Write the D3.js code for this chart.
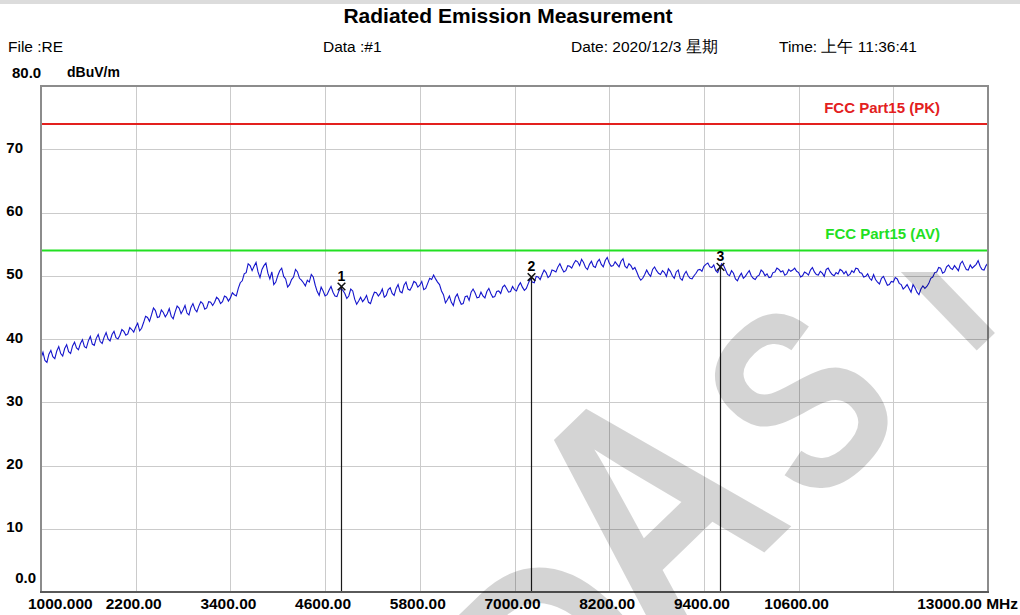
<!DOCTYPE html>
<html>
<head>
<meta charset="utf-8">
<script src="https://cdn.jsdelivr.net/npm/d3@7"></script>
<style>
    body { margin: 0; background: #fff; }
    svg text { font-family: "Liberation Sans", Arial, sans-serif; }
</style>
</head>
<body>
<svg id="chart" width="1020" height="615"></svg>
<script>
// Measured trace, one reading every 25 MHz starting at 1000 MHz (dBuV/m)
const freqStart = 1000;
const freqStep = 25;
const levels = [
    37.0, 37.9, 36.6, 36.3, 37.6, 38.2, 37.2, 36.9, 38.1, 38.8, 37.7, 37.3, 38.5, 39.1, 38.0, 37.7, 38.9, 39.5, 38.6, 38.3,
    39.3, 39.9, 38.8, 38.6, 39.7, 40.4, 39.2, 39.0, 40.1, 40.7, 39.6, 39.3, 40.3, 41.0, 40.0, 39.7, 40.7, 41.2, 40.2, 40.0,
    40.6, 41.5, 41.2, 40.6, 40.8, 41.8, 41.5, 41.1, 41.9, 42.5, 41.3, 41.7, 42.6, 43.6, 43.4, 42.8, 43.8, 44.9, 44.5, 43.4,
    43.5, 44.6, 44.2, 43.5, 44.0, 44.8, 43.6, 43.2, 44.3, 45.2, 44.9, 44.0, 44.6, 45.3, 44.1, 43.8, 45.0, 45.6, 44.7, 44.3,
    45.2, 45.9, 45.6, 44.7, 44.9, 45.9, 45.8, 45.3, 45.8, 46.6, 46.3, 45.6, 45.9, 46.8, 46.6, 46.0, 46.5, 47.3, 47.0, 46.8,
    48.0, 48.9, 49.2, 50.3, 50.5, 51.9, 51.6, 50.8, 51.5, 52.1, 50.6, 49.7, 51.0, 51.6, 52.0, 50.4, 49.5, 50.6, 48.6, 49.0,
    50.0, 50.8, 51.2, 49.9, 49.5, 48.2, 48.6, 49.4, 49.8, 51.0, 50.6, 49.6, 49.3, 48.9, 48.4, 49.3, 49.0, 50.2, 49.8, 48.5,
    47.5, 46.9, 48.2, 47.6, 46.8, 47.0, 47.7, 48.3, 47.4, 46.8, 46.7, 47.6, 48.0, 47.7, 47.2, 46.4, 46.8, 47.9, 47.6, 46.3,
    45.5, 46.0, 46.6, 45.9, 46.3, 46.9, 45.8, 45.6, 46.6, 47.4, 47.3, 46.8, 47.2, 47.9, 46.6, 46.9, 47.8, 48.1, 47.2, 46.9,
    48.0, 48.6, 47.5, 47.3, 48.5, 49.0, 47.9, 47.7, 48.3, 49.1, 48.9, 48.2, 48.5, 49.1, 47.8, 48.0, 48.8, 49.6, 49.4, 50.1,
    49.5, 49.0, 48.6, 47.6, 47.0, 45.7, 46.2, 46.8, 45.8, 45.3, 46.6, 47.1, 46.2, 45.5, 45.6, 46.7, 46.8, 46.1, 47.4, 47.9,
    47.3, 46.5, 46.6, 47.4, 46.8, 46.5, 47.5, 48.0, 47.2, 46.6, 46.7, 47.5, 47.6, 47.2, 48.2, 48.5, 48.0, 47.4, 47.5, 48.3,
    47.8, 47.6, 48.4, 48.9, 48.2, 47.7, 48.0, 48.8, 49.5, 49.0, 48.9, 49.9, 49.8, 49.4, 50.2, 50.9, 50.5, 49.7, 50.0, 50.9,
    50.8, 50.6, 51.4, 51.9, 51.2, 50.6, 50.8, 51.6, 51.5, 51.2, 51.9, 52.4, 52.2, 51.6, 52.6, 52.1, 51.3, 51.0, 51.8, 52.3,
    51.5, 51.3, 52.2, 52.6, 51.8, 51.4, 52.4, 52.9, 52.0, 51.5, 51.6, 52.2, 51.8, 51.4, 52.3, 52.7, 51.5, 51.2, 51.9, 51.6,
    51.0, 51.3, 50.6, 49.8, 49.3, 49.6, 50.2, 50.9, 50.3, 49.9, 51.0, 51.4, 50.8, 50.4, 50.2, 50.8, 50.5, 49.9, 51.1, 50.7,
    50.0, 49.6, 50.6, 50.9, 49.6, 49.3, 50.2, 50.7, 50.0, 49.6, 49.5, 50.0, 50.4, 50.9, 51.0, 50.7, 51.5, 51.8, 52.0, 51.4,
    51.3, 51.7, 50.8, 50.5, 51.3, 51.9, 51.6, 50.9, 50.2, 50.0, 50.8, 50.4, 49.5, 49.2, 49.9, 50.4, 49.6, 49.9, 50.4, 50.8,
    50.0, 49.6, 49.4, 49.9, 50.1, 50.9, 50.6, 50.0, 50.3, 49.7, 49.8, 50.5, 50.6, 51.2, 51.0, 50.6, 50.8, 50.1, 50.3, 51.0,
    50.7, 50.9, 51.2, 50.7, 50.5, 49.8, 50.0, 50.6, 50.4, 50.1, 50.9, 51.3, 50.6, 50.2, 50.1, 50.7, 50.4, 49.9, 51.0, 51.2,
    50.6, 50.2, 50.0, 50.5, 50.3, 51.0, 50.8, 50.3, 50.7, 50.0, 50.2, 50.8, 50.5, 51.2, 51.1, 50.5, 50.4, 49.8, 49.9, 50.3,
    49.6, 49.3, 50.2, 49.4, 49.0, 48.7, 49.6, 49.9, 49.2, 48.5, 48.6, 49.1, 49.0, 49.7, 49.5, 48.8, 48.6, 47.9, 48.2, 48.6,
    48.0, 47.4, 48.6, 48.1, 47.4, 47.0, 47.9, 48.4, 48.0, 48.3, 48.8, 49.6, 49.8, 50.5, 50.6, 51.3, 51.2, 50.4, 50.6, 51.4,
    51.7, 51.2, 51.0, 51.6, 51.2, 50.8, 51.9, 52.3, 51.6, 51.0, 50.9, 51.7, 51.2, 51.5, 51.8, 52.4, 51.5, 51.0, 50.9, 51.6,
    52.0
];

// Axis ticks
const xTicks = [1000, 2200, 3400, 4600, 5800, 7000, 8200, 9400, 10600, 13000];
const xTickLabels = ["1000.000", "2200.00", "3400.00", "4600.00", "5800.00", "7000.00", "8200.00", "9400.00", "10600.00", "13000.00 MHz"];
const xGrid = [2200, 3400, 4600, 5800, 7000, 8200, 9400, 10600, 11800];
const yTicks = [10, 20, 30, 40, 50, 60, 70];

// Limit lines
const limitNames = ["FCC Part15 (PK)", "FCC Part15 (AV)"];
const limitLevels = [74, 54];
const limitColors = ["#e3201e", "#22e022"];

// Markers
const markerIds = ["1", "2", "3"];
const markerFreqs = [4804, 7206, 9608];
const markerLevels = [48.3, 49.8, 51.4];

// Header
const titleText = "Radiated Emission Measurement";
const headerItems = ["File :RE", "Data :#1", "Date: 2020/12/3 星期", "Time: 上午 11:36:41"];
const headerX = [8, 323, 571, 779];

// Watermark letters (center, font size)
const watermarkLetters = ["D", "A", "S", "I"];
const watermarkCenters = [[560, 660], [648, 505], [800, 400], [933, 287]];
const watermarkSizes = [300, 330, 260, 220];

const svg = d3.select("#chart");

const x = d3.scaleLinear().domain([1000, 13000]).range([41, 988]);
const y = d3.scaleLinear().domain([0, 80]).range([592, 86]);

// cut-off strip of the previous page line
svg.append("rect")
    .attr("x", 0).attr("y", 0)
    .attr("width", 1020).attr("height", 4)
    .attr("fill", "#dcdcdc");

svg.append("text")
    .attr("x", 508).attr("y", 23)
    .attr("text-anchor", "middle")
    .attr("font-size", 21).attr("font-weight", "bold")
    .text(titleText);

svg.selectAll(".header")
    .data(headerItems)
    .join("text")
        .attr("class", "header")
        .attr("x", (d, i) => headerX[i])
        .attr("y", 52)
        .attr("font-size", 15.5)
        .text(d => d);

// grid
const grid = svg.append("g").attr("stroke", "#cbcbcb").attr("stroke-width", 1);
grid.selectAll(".vg")
    .data(xGrid)
    .join("line")
        .attr("x1", d => Math.round(x(d)) + 0.5)
        .attr("x2", d => Math.round(x(d)) + 0.5)
        .attr("y1", y(80)).attr("y2", y(0));
grid.selectAll(".hg")
    .data(yTicks)
    .join("line")
        .attr("x1", x(1000)).attr("x2", x(13000))
        .attr("y1", d => Math.round(y(d)) + 0.5)
        .attr("y2", d => Math.round(y(d)) + 0.5);

// limit lines + labels
svg.selectAll(".limit")
    .data(limitLevels)
    .join("line")
        .attr("class", "limit")
        .attr("x1", x(1000)).attr("x2", x(13000))
        .attr("y1", d => y(d)).attr("y2", d => y(d))
        .attr("stroke", (d, i) => limitColors[i])
        .attr("stroke-width", 2);
svg.selectAll(".limit-label")
    .data(limitNames)
    .join("text")
        .attr("class", "limit-label")
        .attr("x", 940)
        .attr("y", (d, i) => y(limitLevels[i]) - 11)
        .attr("text-anchor", "end")
        .attr("font-size", 15).attr("font-weight", "bold")
        .attr("fill", (d, i) => limitColors[i])
        .text(d => d);

// trace
const trace = levels.map((v, i) => [freqStart + i * freqStep, v]);
svg.append("path")
    .datum(trace)
    .attr("fill", "none")
    .attr("stroke", "#1414cc")
    .attr("stroke-width", 1.1)
    .attr("d", d3.line().x(d => x(d[0])).y(d => y(d[1])));

// markers: vertical drop line, x symbol and number
const markers = svg.append("g");
markerFreqs.forEach((f, i) => {
    const mx = Math.round(x(f)) + 0.5;
    const my = y(markerLevels[i]);
    markers.append("line")
        .attr("x1", mx).attr("x2", mx)
        .attr("y1", my).attr("y2", y(0))
        .attr("stroke", "#1a1a1a").attr("stroke-width", 1.2);
    markers.append("path")
        .attr("transform", `translate(${mx},${my})`)
        .attr("d", d3.symbol(d3.symbolX, 40)())
        .attr("fill", "none")
        .attr("stroke", "#111").attr("stroke-width", 1.5);
    markers.append("text")
        .attr("x", mx).attr("y", my - 6)
        .attr("text-anchor", "middle")
        .attr("font-size", 14).attr("font-weight", "bold")
        .text(markerIds[i]);
});

// frame
svg.append("rect")
    .attr("x", x(1000)).attr("y", y(80))
    .attr("width", x(13000) - x(1000)).attr("height", y(0) - y(80))
    .attr("fill", "none")
    .attr("stroke", "#8c8c8c").attr("stroke-width", 2);
svg.append("line")
    .attr("x1", x(1000) - 1).attr("x2", x(13000) + 1)
    .attr("y1", y(0)).attr("y2", y(0))
    .attr("stroke", "#5a5a5a").attr("stroke-width", 2);

// axis labels
svg.selectAll(".ytick")
    .data(yTicks)
    .join("text")
        .attr("class", "ytick")
        .attr("x", 23)
        .attr("y", d => y(d) - 2)
        .attr("dominant-baseline", "central")
        .attr("text-anchor", "end")
        .attr("font-size", 15).attr("font-weight", "bold")
        .text(d => d);
svg.append("text")
    .attr("x", 36).attr("y", y(0) - 15)
    .attr("dominant-baseline", "central")
    .attr("text-anchor", "end")
    .attr("font-size", 15).attr("font-weight", "bold")
    .text("0.0");
svg.append("text")
    .attr("x", 12).attr("y", y(80) - 14)
    .attr("dominant-baseline", "central")
    .attr("font-size", 15).attr("font-weight", "bold")
    .text("80.0");
svg.append("text")
    .attr("x", 67).attr("y", y(80) - 14)
    .attr("dominant-baseline", "central")
    .attr("font-size", 14).attr("font-weight", "bold")
    .text("dBuV/m");

svg.selectAll(".xtick")
    .data(xTicks)
    .join("text")
        .attr("class", "xtick")
        .attr("x", (d, i) => i == 0 ? 28 : (i == xTicks.length - 1 ? 1018 : x(d) - 2))
        .attr("y", 609)
        .attr("text-anchor", (d, i) => i == 0 ? "start" : (i == xTicks.length - 1 ? "end" : "middle"))
        .attr("font-size", 15.5).attr("font-weight", "bold")
        .text((d, i) => xTickLabels[i]);

// watermark on top, semi transparent
svg.append("clipPath").attr("id", "wm-clip")
    .append("rect").attr("x", 0).attr("y", 272).attr("width", 1020).attr("height", 400);
svg.append("g")
    .attr("clip-path", "url(#wm-clip)")
    .selectAll("text")
    .data(watermarkLetters)
    .join("text")
        .attr("transform", (d, i) => `translate(${watermarkCenters[i][0]},${watermarkCenters[i][1]}) rotate(-44) scale(0.8,1)`)
        .attr("text-anchor", "middle")
        .attr("dominant-baseline", "central")
        .attr("font-size", (d, i) => watermarkSizes[i]).attr("font-weight", "bold")
        .attr("fill", "#000").attr("fill-opacity", 0.17)
        .text(d => d);
</script>
</body>
</html>
